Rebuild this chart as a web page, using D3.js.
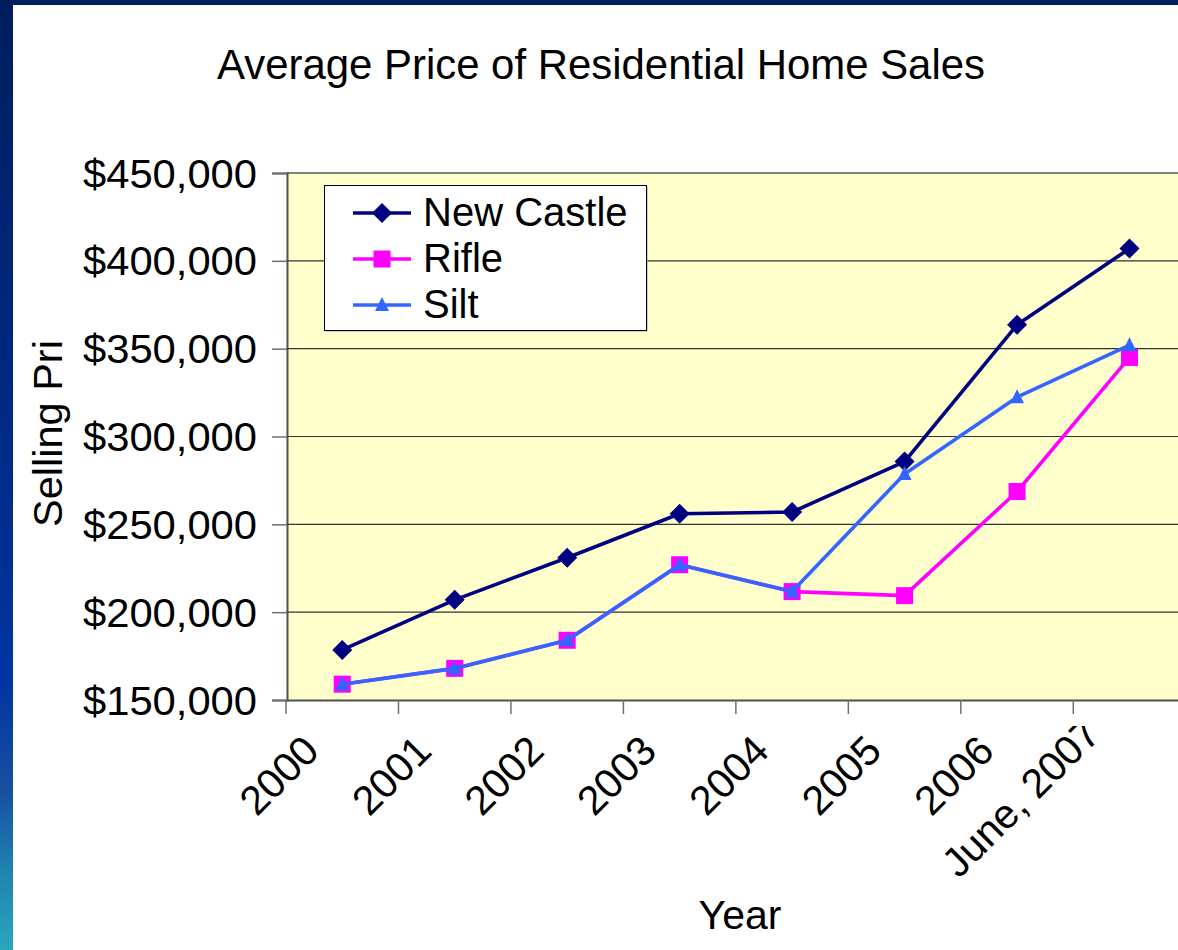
<!DOCTYPE html>
<html>
<head>
<meta charset="utf-8">
<script src="https://cdn.jsdelivr.net/npm/d3@7"></script>
<style>
  html, body { margin: 0; padding: 0; background: #ffffff; }
  svg { display: block; font-family: "Liberation Sans", Arial, sans-serif; }
</style>
</head>
<body>
<svg id="chart" width="1178" height="950"></svg>
<script>
// ---- data ----
const categories = ["2000", "2001", "2002", "2003", "2004", "2005", "2006", "June, 2007"];
const newCastle = [178500, 207000, 231000, 256000, 257000, 285700, 363600, 407000];
const rifle     = [159000, 168000, 184000, 227000, 211700, 209400, 268700, 345000];
const silt      = [159000, 168000, 184000, 227000, 211700, 278700, 322400, 352000];
const yTicks    = [150000, 200000, 250000, 300000, 350000, 400000, 450000];
const seriesNames = ["New Castle", "Rifle", "Silt"];

const title = "Average Price of Residential Home Sales";
const yTitle = "Selling Pri";
const xTitle = "Year";

const series = [
  { name: seriesNames[0], values: newCastle, color: "#000080", marker: "diamond" },
  { name: seriesNames[1], values: rifle,     color: "#FF00FF", marker: "square" },
  { name: seriesNames[2], values: silt,      color: "#3366FF", marker: "triangle" }
];

const svg = d3.select("#chart");
const W = 1178, H = 950;

// ---- slide frame ----
const defs = svg.append("defs");
const grad = defs.append("linearGradient").attr("id", "frameGrad")
  .attr("x1", 0).attr("y1", 0).attr("x2", 0).attr("y2", 1);
[[0, "#001E5E"], [0.45, "#002A86"], [0.72, "#0035A0"], [0.83, "#174FA0"], [0.92, "#1F85B0"], [1, "#2AA6BE"]]
  .forEach(([o, c]) => grad.append("stop").attr("offset", o).attr("stop-color", c));
svg.append("rect").attr("x", 0).attr("y", 0).attr("width", W).attr("height", H).attr("fill", "#ffffff");
svg.append("rect").attr("x", 0).attr("y", 0).attr("width", 13).attr("height", H).attr("fill", "url(#frameGrad)");
svg.append("rect").attr("x", 0).attr("y", 0).attr("width", W).attr("height", 5).attr("fill", "#001F5F");

function fitWidth(sel, width) {
  sel.attr("textLength", width).attr("lengthAdjust", "spacingAndGlyphs");
}

// ---- scales ----
const plotL = 286, plotT = 173, plotB = 700, bandW = 112.47;
const x = d3.scaleBand().domain(categories).range([plotL, plotL + bandW * categories.length]).padding(0);
const y = d3.scaleLinear().domain([150000, 450000]).range([plotB, plotT]);
const cx = c => x(c) + x.bandwidth() / 2;

// ---- title ----
svg.append("text").attr("x", 217).attr("y", 79)
  .attr("font-size", 42).attr("fill", "#000").text(title)
  .call(s => fitWidth(s, 768));

// ---- plot area ----
svg.append("rect").attr("x", plotL).attr("y", plotT)
  .attr("width", W - plotL + 20).attr("height", plotB - plotT)
  .attr("fill", "#FFFFCC");

// gridlines
svg.append("g").selectAll("line").data(yTicks.filter(v => v > 150000 && v < 450000)).join("line")
  .attr("x1", plotL).attr("x2", W + 10)
  .attr("y1", d => y(d)).attr("y2", d => y(d))
  .attr("stroke", "#333333").attr("stroke-width", 1.2);
// top border
svg.append("line").attr("x1", plotL).attr("x2", W + 10).attr("y1", plotT).attr("y2", plotT)
  .attr("stroke", "#808080").attr("stroke-width", 2);

// y axis
const yAxis = d3.axisLeft(y).tickValues(yTicks).tickSize(15).tickFormat(() => "");
const yg = svg.append("g").attr("transform", `translate(${plotL + 1},0)`).call(yAxis);
yg.select(".domain").attr("stroke", "#505050").attr("stroke-width", 2);
yg.selectAll(".tick line").attr("stroke", "#707070").attr("stroke-width", 1.5);
svg.append("g").selectAll("text").data(yTicks).join("text")
  .attr("x", 83).attr("y", d => y(d) + 14.5)
  .attr("font-size", 41).attr("fill", "#000")
  .text(d => "$" + d3.format(",")(d))
  .call(s => fitWidth(s, 174));

// x axis
const xAxis = d3.axisBottom(x).tickSize(0).tickFormat(() => "");
const xg = svg.append("g").attr("transform", `translate(0,${plotB})`).call(xAxis);
xg.select(".domain").attr("stroke", "#505050").attr("stroke-width", 2);
xg.selectAll(".tick").remove();
const bounds = categories.map(c => x(c));
svg.append("g").selectAll("line").data(bounds).join("line")
  .attr("x1", d => d).attr("x2", d => d).attr("y1", plotB).attr("y2", plotB + 14)
  .attr("stroke", "#707070").attr("stroke-width", 1.5);

// label placement tweak for the long last label (style only)
const labelShift = c => c.length > 6 ? [-6, -17] : [0, 0];
defs.append("clipPath").attr("id", "xlabClip").append("rect")
  .attr("x", 0).attr("y", 726).attr("width", W).attr("height", H - 726);
svg.append("g").attr("clip-path", "url(#xlabClip)")
  .selectAll("text").data(categories).join("text")
  .attr("transform", d => `translate(${cx(d) - 21 + labelShift(d)[0]},${753 + labelShift(d)[1]}) rotate(-45)`)
  .attr("text-anchor", "end").attr("font-size", 41).attr("fill", "#000")
  .text(d => d);

// axis titles
svg.append("text").attr("transform", "translate(62,433.5) rotate(-90)")
  .attr("text-anchor", "middle").attr("font-size", 41.5).attr("fill", "#000")
  .text(yTitle);
svg.append("text").attr("x", 740).attr("y", 929).attr("text-anchor", "middle")
  .attr("font-size", 41).attr("fill", "#000").text(xTitle);

// ---- markers ----
function drawMarker(g, type, px, py, color) {
  if (type === "diamond") {
    g.append("path").attr("d", `M${px},${py - 10}L${px + 10},${py}L${px},${py + 10}L${px - 10},${py}Z`).attr("fill", color);
  } else if (type === "square") {
    g.append("rect").attr("x", px - 8.5).attr("y", py - 8.5).attr("width", 17).attr("height", 17).attr("fill", color);
  } else {
    g.append("path").attr("d", `M${px},${py - 8}L${px + 7},${py + 6}L${px - 7},${py + 6}Z`).attr("fill", color);
  }
}

const line = d3.line().x((d, i) => cx(categories[i])).y(d => y(d));
series.forEach(s => {
  const g = svg.append("g");
  g.append("path").datum(s.values).attr("d", line)
    .attr("fill", "none").attr("stroke", s.color).attr("stroke-width", 3.6)
    .attr("stroke-linejoin", "round");
  s.values.forEach((v, i) => drawMarker(g, s.marker, cx(categories[i]), y(v), s.color));
});

// ---- legend ----
const lg = svg.append("g");
lg.append("rect").attr("x", 325.5).attr("y", 186.5).attr("width", 322).attr("height", 145).attr("fill", "#a0a0a0");
lg.append("rect").attr("x", 324.5).attr("y", 185.5).attr("width", 322).attr("height", 145)
  .attr("fill", "#ffffff").attr("stroke", "#000").attr("stroke-width", 1);
const rowY = [213, 259, 305];
series.forEach((s, i) => {
  lg.append("line").attr("x1", 353).attr("x2", 411).attr("y1", rowY[i]).attr("y2", rowY[i])
    .attr("stroke", s.color).attr("stroke-width", 3.4);
  drawMarker(lg, s.marker, 382, rowY[i], s.color);
  lg.append("text").attr("x", 423).attr("y", rowY[i] + 13).attr("font-size", 40).attr("fill", "#000")
    .text(s.name);
});
</script>
</body>
</html>
